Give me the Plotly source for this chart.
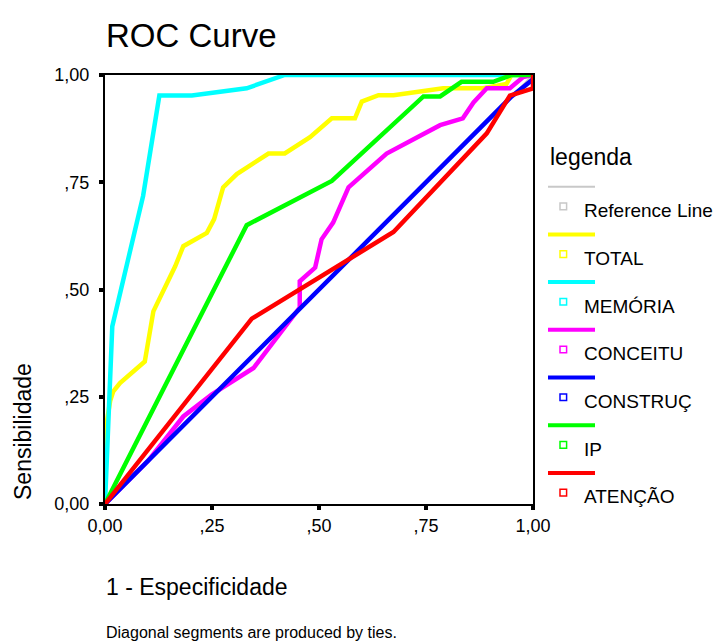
import plotly.graph_objects as go

# ---------------- data ----------------
series_names = ["TOTAL", "MEMÓRIA", "CONCEITU", "CONSTRUÇ", "IP", "ATENÇÃO"]
series_colors = ["#FFFF00", "#00FFFF", "#FF00FF", "#0000FF", "#00FF00", "#FF0000"]

total_x = [0, 0, 0.012, 0.019, 0.035, 0.093, 0.113, 0.164, 0.183, 0.238, 0.255, 0.276, 0.308,
           0.382, 0.42, 0.479, 0.530, 0.584, 0.600, 0.639, 0.674, 0.79, 0.884, 0.938, 0.950, 1.0]
total_y = [0, 0.165, 0.24, 0.262, 0.282, 0.332, 0.449, 0.554, 0.601, 0.632, 0.664, 0.738, 0.769,
           0.817, 0.817, 0.855, 0.899, 0.899, 0.938, 0.953, 0.953, 0.969, 0.969, 0.979, 1.0, 1.0]

memoria_x = [0, 0.009, 0.017, 0.089, 0.127, 0.203, 0.331, 0.42, 1.0]
memoria_y = [0, 0.22, 0.414, 0.718, 0.952, 0.952, 0.969, 1.0, 1.0]

conceitu_x = [0, 0.10, 0.183, 0.249, 0.347, 0.455, 0.455, 0.491, 0.506, 0.533, 0.569, 0.658,
              0.783, 0.836, 0.861, 0.892, 0.946, 0.977, 1.0]
conceitu_y = [0, 0.10, 0.204, 0.255, 0.317, 0.458, 0.519, 0.551, 0.617, 0.656, 0.738, 0.817,
              0.883, 0.899, 0.936, 0.969, 0.969, 0.995, 1.0]

construc_x = [0, 0.95, 1.0]
construc_y = [0, 0.95, 0.99]

ip_x = [0, 0.331, 0.530, 0.744, 0.783, 0.833, 0.907, 0.95, 1.0]
ip_y = [0, 0.650, 0.753, 0.950, 0.950, 0.984, 0.984, 1.0, 1.0]

atencao_x = [0, 0.343, 0.674, 0.892, 0.946, 1.0, 1.0]
atencao_y = [0, 0.432, 0.634, 0.864, 0.952, 0.969, 1.0]

ref_x = [0, 1]
ref_y = [0, 1]

tick_vals = [0, 0.25, 0.5, 0.75, 1.0]
tick_text = ["0,00", ",25", ",50", ",75", "1,00"]

series_x = [total_x, memoria_x, conceitu_x, construc_x, ip_x, atencao_x]
series_y = [total_y, memoria_y, conceitu_y, construc_y, ip_y, atencao_y]

# ---------------- layout geometry ----------------
FIG_W, FIG_H = 714, 644
L, T, PW, PH = 105, 75, 428, 429
R = FIG_W - L - PW
B = FIG_H - T - PH
FONT = "Arial, Liberation Sans, sans-serif"
REF_COLOR = "#C8C8C8"


def px2x(px):
    return (px - L) / PW


def py2y(py):
    return (T + PH - py) / PH


fig = go.Figure()

fig.add_trace(go.Scatter(x=ref_x, y=ref_y, mode="lines", name="Reference Line",
                         line=dict(color=REF_COLOR, width=2), cliponaxis=False,
                         showlegend=False))
for name, color, xs, ys in zip(series_names, series_colors, series_x, series_y):
    fig.add_trace(go.Scatter(x=xs, y=ys, mode="lines", name=name,
                             line=dict(color=color, width=4.5), cliponaxis=False,
                             showlegend=False))

axis_common = dict(
    range=[0, 1], tickvals=tick_vals, ticktext=tick_text,
    showgrid=False, zeroline=False, showline=True, linecolor="black", linewidth=2,
    mirror=True, ticks="outside", ticklen=4, tickwidth=4, tickcolor="black",
    tickfont=dict(family=FONT, size=18, color="black"), layer="below traces",
    fixedrange=True,
)

shapes = []
annotations = []

# custom SPSS-style legend
legend_names = ["Reference Line"] + series_names
legend_colors = [REF_COLOR] + series_colors
annotations.append(dict(text="legenda", x=px2x(548), y=py2y(157), xref="paper", yref="paper",
                        xanchor="left", yanchor="middle", showarrow=False,
                        font=dict(family=FONT, size=23, color="black")))
for i, (nm, col) in enumerate(zip(legend_names, legend_colors)):
    ly = 186.7 + i * 47.7
    shapes.append(dict(type="line", xref="paper", yref="paper",
                       x0=px2x(548), x1=px2x(595), y0=py2y(ly), y1=py2y(ly),
                       line=dict(color=col, width=2 if i == 0 else 4)))
    my = ly + 19.7
    shapes.append(dict(type="rect", xref="paper", yref="paper",
                       x0=px2x(560), x1=px2x(566.6), y0=py2y(my + 3.3), y1=py2y(my - 3.3),
                       line=dict(color=col, width=1.5), fillcolor="white"))
    annotations.append(dict(text=nm, x=px2x(582), y=py2y(ly + 24), xref="paper", yref="paper",
                            xanchor="left", yanchor="middle", showarrow=False,
                            font=dict(family=FONT, size=19, color="black")))

# titles
annotations.append(dict(text="ROC Curve", x=px2x(104), y=py2y(35), xref="paper", yref="paper",
                        xanchor="left", yanchor="middle", showarrow=False,
                        font=dict(family=FONT, size=33, color="black")))
annotations.append(dict(text="Sensibilidade", x=px2x(23), y=py2y(432), xref="paper", yref="paper",
                        xanchor="center", yanchor="middle", textangle=-90, showarrow=False,
                        font=dict(family=FONT, size=23, color="black")))
annotations.append(dict(text="1 - Especificidade", x=px2x(104), y=py2y(587), xref="paper",
                        yref="paper", xanchor="left", yanchor="middle", showarrow=False,
                        font=dict(family=FONT, size=23, color="black")))
annotations.append(dict(text="Diagonal segments are produced by ties.", x=px2x(104), y=py2y(632),
                        xref="paper", yref="paper", xanchor="left", yanchor="middle",
                        showarrow=False, font=dict(family=FONT, size=16, color="black")))

fig.update_layout(
    width=FIG_W, height=FIG_H,
    margin=dict(l=L, r=R, t=T, b=B, pad=0),
    paper_bgcolor="white", plot_bgcolor="white",
    xaxis=axis_common, yaxis=dict(axis_common, ticklabelstandoff=6),
    shapes=shapes, annotations=annotations, showlegend=False,
)

fig.write_html("out.html", config={"displayModeBar": False})
